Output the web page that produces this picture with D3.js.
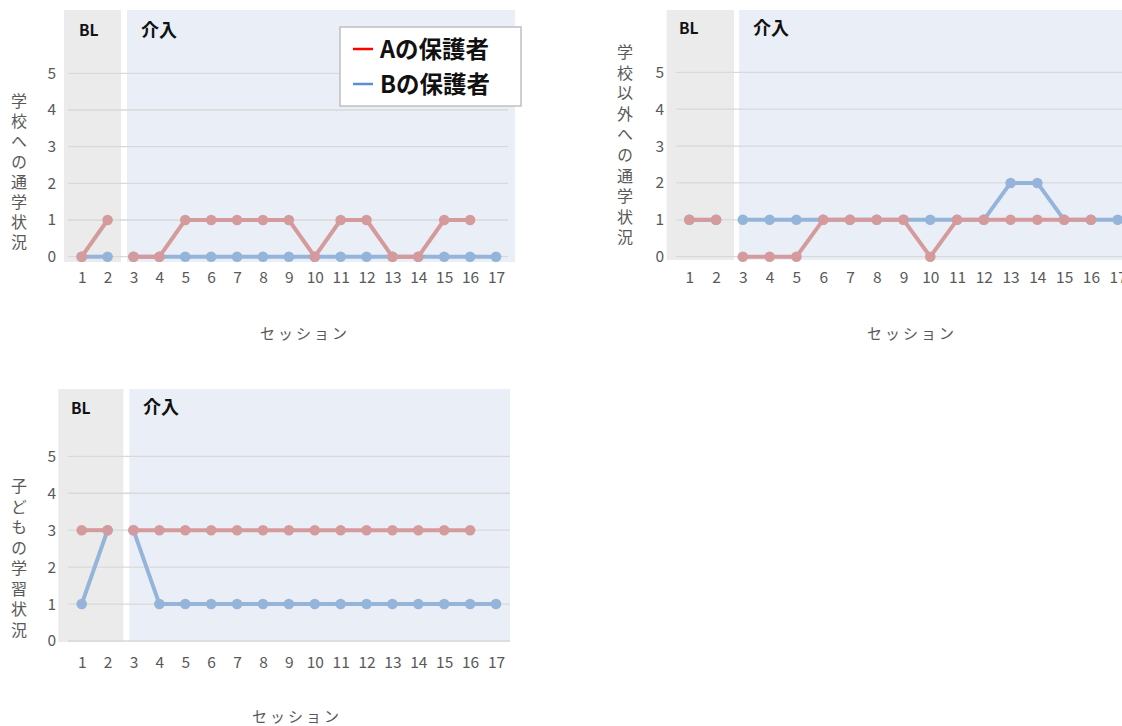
<!DOCTYPE html>
<html>
<head>
<meta charset="utf-8">
<script src="https://cdn.jsdelivr.net/npm/d3@7"></script>
<style>
  html, body { margin: 0; padding: 0; background: #fff; }
  svg { display: block; }
  text { font-family: "Noto Sans CJK JP", "Noto Sans", sans-serif; }
</style>
</head>
<body>
<svg id="chart" width="1122" height="726"></svg>
<script>
// Sessions 1–17: sessions 1–2 are the baseline (BL), 3–17 the intervention (介入)
const sessions = d3.range(1, 18);
const yTicks = [0, 1, 2, 3, 4, 5];
const seriesNames = ["Aの保護者", "Bの保護者"];

// 学校への通学状況
const schoolA = [0, 1, 0, 0, 1, 1, 1, 1, 1, 0, 1, 1, 0, 0, 1, 1, null];
const schoolB = [0, 0, 0, 0, 0, 0, 0, 0, 0, 0, 0, 0, 0, 0, 0, 0, 0];

// 学校以外への通学状況
const otherA = [1, 1, 0, 0, 0, 1, 1, 1, 1, 0, 1, 1, 1, 1, 1, 1, null];
const otherB = [1, 1, 1, 1, 1, 1, 1, 1, 1, 1, 1, 1, 2, 2, 1, 1, 1];

// 子どもの学習状況
const studyA = [3, 3, 3, 3, 3, 3, 3, 3, 3, 3, 3, 3, 3, 3, 3, 3, null];
const studyB = [1, 3, 3, 1, 1, 1, 1, 1, 1, 1, 1, 1, 1, 1, 1, 1, 1];

const colors = { A: "#d59b9c", B: "#95b4da" };
const legendColors = { A: "#ff0000", B: "#5b8fd0" };

const svg = d3.select("#chart");

function panel(cfg) {
  const g = svg.append("g");
  const x = d3.scaleLinear().domain([1, 17]).range([cfg.x1, cfg.x17]);
  const y = d3.scaleLinear().domain([0, 5]).range([cfg.y0, cfg.y5]);

  // phase backgrounds
  g.append("rect").attr("x", cfg.bl[0]).attr("width", cfg.bl[1] - cfg.bl[0])
    .attr("y", cfg.top).attr("height", cfg.bottom - cfg.top).attr("fill", "#ebebeb");
  g.append("rect").attr("x", cfg.iv[0]).attr("width", cfg.iv[1] - cfg.iv[0])
    .attr("y", cfg.top).attr("height", cfg.bottom - cfg.top).attr("fill", "#eaeff7");

  // horizontal gridlines
  g.append("g").selectAll("line").data(yTicks).join("line")
    .attr("x1", cfg.grid[0]).attr("x2", cfg.grid[1])
    .attr("y1", d => y(d)).attr("y2", d => y(d))
    .attr("stroke", "#d9d9d9").attr("stroke-width", 1.3);

  // y axis tick labels
  const yAxis = d3.axisLeft(y).tickValues(yTicks).tickSize(0).tickPadding(0).tickFormat(d3.format("d"));
  const ya = g.append("g").attr("transform", `translate(${cfg.yLabelX},0)`).call(yAxis);
  ya.select(".domain").remove();
  ya.selectAll("text").attr("fill", "#595959").attr("font-size", 15.5)
    .attr("font-family", "'Open Sans', sans-serif");

  // x axis tick labels
  const xAxis = d3.axisBottom(x).tickValues(sessions).tickSize(0).tickPadding(0).tickFormat(d3.format("d"));
  const xa = g.append("g").attr("transform", `translate(0,${cfg.xLabelY})`).call(xAxis);
  xa.select(".domain").remove();
  xa.selectAll("text").attr("fill", "#595959").attr("font-size", 15.5)
    .attr("font-family", "'Open Sans', sans-serif");

  // phase labels
  g.append("text").attr("x", cfg.blLabel[0]).attr("y", cfg.blLabel[1])
    .attr("font-size", 15.5).attr("font-weight", "bold").attr("fill", "#111").text("BL");
  g.append("text").attr("x", cfg.ivLabel[0]).attr("y", cfg.ivLabel[1])
    .attr("font-size", 18).attr("font-weight", "bold").attr("fill", "#111").text("介入");

  // vertical y-axis title, one glyph column
  g.append("text").attr("x", cfg.titleX).attr("y", cfg.titleY)
    .style("writing-mode", "vertical-rl")
    .attr("letter-spacing", cfg.titleStep - 16)
    .attr("font-size", 16).attr("fill", "#595959").text(cfg.title);

  // x-axis title
  g.append("text").attr("x", cfg.sessionX).attr("y", cfg.sessionY)
    .attr("text-anchor", "middle").attr("font-size", 15).attr("letter-spacing", 3)
    .attr("fill", "#595959").text("セッション");

  // series: baseline and intervention drawn as separate segments
  const line = d3.line().defined(d => d.v != null).x(d => x(d.s)).y(d => y(d.v));
  const phases = [[1, 2], [3, 17]];
  [["B", cfg.b], ["A", cfg.a]].forEach(([key, vals]) => {
    const pts = sessions.map((s, i) => ({ s, v: vals[i] }));
    const sg = g.append("g");
    phases.forEach(([lo, hi]) => {
      sg.append("path").datum(pts.filter(p => p.s >= lo && p.s <= hi))
        .attr("d", line).attr("fill", "none").attr("stroke", colors[key])
        .attr("stroke-width", 4).attr("stroke-linejoin", "round");
    });
    sg.selectAll("circle").data(pts.filter(p => p.v != null)).join("circle")
      .attr("cx", d => x(d.s)).attr("cy", d => y(d.v)).attr("r", 5.3)
      .attr("fill", colors[key]);
  });
  return g;
}

const p1 = panel({
  x1: 81.7, x17: 496, y0: 256.7, y5: 73.3, top: 10, bottom: 262,
  bl: [64, 121], iv: [127, 515], grid: [68, 508],
  yLabelX: 56, xLabelY: 272, blLabel: [79, 36], ivLabel: [141, 37],
  title: "学校への通学状況", titleX: 19, titleY: 93, titleStep: 20.2,
  sessionX: 305, sessionY: 339, a: schoolA, b: schoolB
});

panel({
  x1: 689.3, x17: 1117.7, y0: 256.7, y5: 72.3, top: 10, bottom: 260,
  bl: [666.7, 734], iv: [739, 1130], grid: [676, 1130],
  yLabelX: 664, xLabelY: 272, blLabel: [679, 34], ivLabel: [753, 35],
  title: "学校以外への通学状況", titleX: 625, titleY: 44, titleStep: 20.6,
  sessionX: 912, sessionY: 339, a: otherA, b: otherB
});

panel({
  x1: 81.7, x17: 496, y0: 641, y5: 456.3, top: 389, bottom: 642,
  bl: [58.3, 123.3], iv: [129.3, 510], grid: [68, 510],
  yLabelX: 56, xLabelY: 657, blLabel: [71, 414], ivLabel: [143, 414],
  title: "子どもの学習状況", titleX: 19, titleY: 478, titleStep: 20.5,
  sessionX: 297, sessionY: 722, a: studyA, b: studyB
});

// legend inside the first panel
const lg = p1.append("g");
lg.append("rect").attr("x", 340).attr("y", 27).attr("width", 181).attr("height", 79)
  .attr("fill", "#fff").attr("stroke", "#bfbfbf").attr("stroke-width", 1.5);
[["A", seriesNames[0]], ["B", seriesNames[1]]].forEach(([key, name], i) => {
  const cy = 49 + i * 35;
  lg.append("line").attr("x1", 353).attr("x2", 373).attr("y1", cy).attr("y2", cy)
    .attr("stroke", legendColors[key]).attr("stroke-width", 2.5);
  lg.append("text").attr("x", 380).attr("y", cy + 8.5).attr("font-size", 23.5)
    .attr("font-weight", "bold").attr("fill", "#111").text(name);
});
</script>
</body>
</html>
